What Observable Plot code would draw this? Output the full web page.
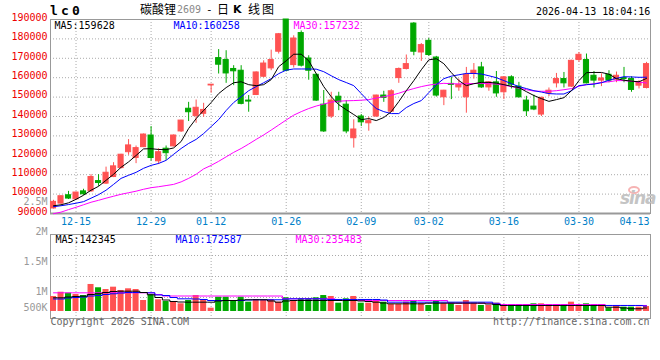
<!DOCTYPE html>
<html><head><meta charset="utf-8">
<script src="https://cdn.jsdelivr.net/npm/d3@7"></script>
<script src="https://cdn.jsdelivr.net/npm/@observablehq/plot@0.6"></script>
<style>
body{margin:0;background:#fff;}
#wrap{position:relative;width:660px;height:360px;background:#fff;overflow:hidden;font-family:"DejaVu Sans Mono",monospace;}
#wrap svg{position:absolute;left:0;}
.t{position:absolute;white-space:pre;line-height:1;}
</style></head><body>
<div id="wrap"></div>
<script>
// ---------- data ----------
const symbol = "lc0";
const nameCN = "碳酸锂", contract = "2609", dash = "-", kindA = "日", kindB = "K", kindC = "线图";
const stamp = "2026-04-13 18:04:16";
const priceLegend = ["MA5:159628", "MA10:160258", "MA30:157232"];
const volLegend = ["MA5:142345", "MA10:172587", "MA30:235483"];
const copyright = "Copyright 2026 SINA.COM";
const url = "http://finance.sina.com.cn";
const watermark = "sina";

const tickIdx = [3, 13, 21, 31, 41, 50, 60, 70, 79];
const tickLabels = ["12-15", "12-29", "01-12", "01-26", "02-09", "03-02", "03-16", "03-30", "04-13"];
const priceTicks = [190000, 180000, 170000, 160000, 150000, 140000, 130000, 120000, 110000, 100000, 90000];
const priceGrid = [180000, 170000, 160000, 150000, 140000, 130000, 120000, 110000, 100000];
const volTicks = [2500000, 2000000, 1500000, 1000000];
const volTickLabels = ["2.5M", "2M", "1.5M", "1M"];
const volLowLabel = "500K";
const volGrid = [1650000, 1300000, 950000];
const volBase = 717000;

const open = [92600,95100,99400,97300,101400,101400,106700,105400,108800,113400,
121600,118600,124200,130200,116900,123400,124600,132300,144000,140200,
141400,156000,170100,169100,164500,163600,148200,151100,160500,164800,
173400,190000,166500,183000,169900,161500,146100,140000,150200,146100,
128800,140000,136500,140000,150800,142500,159800,164500,187900,173000,
179000,170400,149900,156800,155000,149900,161900,165300,155000,157600,
152500,160200,155400,148200,145100,141000,151900,157100,159300,155400,
169100,169100,161000,158500,161500,159000,159800,159300,155900,154700];
const close = [96000,98900,97700,100800,99900,108800,105700,111000,114300,120300,
125100,123700,130700,118600,121600,121100,130200,137900,142200,144500,
143400,156400,166700,162200,163300,146500,147700,162700,167300,169100,
182400,163600,180200,166200,163600,148200,132300,148200,147300,132300,
133300,137000,137600,150800,149600,153000,164500,167000,173400,176800,
171700,150800,153300,156300,156300,161500,163600,155000,157600,151900,
160200,156400,149900,142700,143600,149600,153300,159300,157100,168700,
171800,157100,158500,159600,158500,161000,159300,153700,157600,167000];
const high = [96800,99000,101400,101000,102500,110000,110000,113900,116200,120500,
128100,124800,131000,134800,123400,124800,130500,138000,147300,148500,
146800,156500,174500,173900,166200,166200,150800,163000,168700,174200,
182800,190000,181600,184100,171300,162000,153400,152500,152500,148200,
138300,141000,139600,151000,153000,153800,165000,171700,188400,177600,
180200,171000,153500,160200,159300,165300,167300,167900,158000,163200,
160500,161000,157600,150400,151000,150000,154700,162200,162700,169000,
173000,172200,163200,162000,163600,162900,165300,160500,158500,167900];
const low = [92300,94800,97200,97000,99400,101000,104000,105000,108500,113000,
120000,115700,124000,117000,115200,117400,124300,131800,137400,136500,
139600,152000,161900,157100,155900,146000,142200,150800,160000,163600,
172200,163000,165000,165500,158700,147800,131800,139000,143000,131100,
123700,134800,132400,139500,147300,142000,157100,164000,171300,168400,
171000,150000,145600,148700,153000,141700,159300,154500,153000,149900,
148700,154200,149500,140000,143000,140000,150200,154700,154700,155000,
167900,156800,154700,155400,157400,157400,157400,152500,154200,154200];

const ma5 = [94000,94500,95500,97300,99400,102000,104000,107100,110200,113800,
116600,119900,123300,123400,123000,122900,123800,127100,133800,138900,
143100,147200,151800,154900,157400,157900,156400,155900,156400,159000,
165700,168700,172100,172100,168700,162100,155400,150200,146100,143500,
141000,138400,138900,137900,139500,142500,147700,153300,158500,164100,
169200,169800,167200,162600,158500,155900,156900,157600,157600,157200,
156400,155600,154900,152800,150800,149200,147800,148700,149700,153300,
158500,162600,162700,162700,161800,159500,158700,158200,157900,159628];
const ma10 = [93500,94000,94600,95300,96100,97900,99700,102000,105000,108100,
109700,111200,113300,114800,115800,117400,120500,123500,126100,128200,
131200,134800,138400,143100,147200,150200,153300,155400,157400,159500,
162100,163900,164500,164500,164500,164400,163100,161000,159000,157500,
155900,151800,147700,144100,142500,141500,141500,144600,146700,148200,
152300,156400,159500,160800,161500,162200,162200,161900,161000,160000,
158500,156900,155400,154400,153300,152600,151800,151600,151600,153300,
155900,156400,156700,157400,158700,159700,160500,160400,160200,160258];
const ma30 = [89900,90700,92000,93200,94500,95800,96800,97900,98900,99900,
100700,101500,102500,103300,103800,104400,105000,106300,108100,110200,
113000,114800,116900,119200,121500,123500,125800,128200,130500,133000,
135600,138200,140700,142500,144100,145400,146400,147400,147900,148100,
148200,148400,148700,149500,150200,151000,152000,153300,154400,155400,
156200,156700,157100,156900,156800,156900,157000,157100,156900,156700,
156200,155400,154600,153800,153100,153000,153000,153300,153800,154400,
155600,156400,156900,157600,157900,158500,158500,158200,157700,157232];

const volume = [967,1038,1022,1000,983,1167,1112,1083,1122,1067,
1095,1083,900,995,912,883,872,845,900,983,
912,772,955,955,900,955,872,917,900,917,
872,945,900,928,928,945,983,967,855,928,
967,855,855,888,872,833,833,872,900,845,
817,900,845,855,817,900,845,817,817,855,
800,800,817,833,845,845,817,817,817,872,
817,845,817,817,772,800,789,789,789,800].map(v => v * 1000);
const volMa5 = [945,945,958,967,972,1000,1012,1033,1050,1055,
1055,1055,1033,995,950,908,883,875,872,872,
872,872,892,900,900,908,912,912,912,892,
872,892,900,900,900,900,900,900,900,900,
900,892,883,872,858,845,845,845,845,845,
855,855,855,855,855,855,855,855,842,833,
817,817,817,817,817,817,817,817,817,817,
817,817,817,817,788,788,775,762,762,775].map(v => v * 1000);
const volMa10 = [925,925,942,950,958,975,983,1000,1012,1025,
1033,1033,1033,1028,992,983,950,928,928,925,
917,900,900,900,900,900,908,912,912,912,
912,925,928,928,928,928,925,917,917,917,
917,917,917,917,908,872,872,872,872,872,
872,872,872,872,872,872,872,872,872,842,
817,817,817,817,817,817,817,817,817,817,
817,817,817,817,817,817,817,817,817,808].map(v => v * 1000);
const volMa30 = [1028,1028,1028,1028,1028,1028,1028,1028,1028,1028,
1028,1028,1028,1028,1000,975,975,975,975,975,
975,975,975,975,975,975,975,975,975,975,
975,928,928,928,928,928,928,928,900,900,
900,900,900,900,900,900,900,900,900,900,
900,900,900,855,855,855,855,855,855,855,
833,833,833,833,833,833,833,833,833,833,
833,833,833,833,817,817,817,817,817,817].map(v => v * 1000);

// ---------- styles ----------
const RED = "#ff5252", GREEN = "#00a800", GRID = "#aaaaaa", BORDER = "#999999";
const MONO = "'DejaVu Sans Mono', monospace";
const xDomain = [-0.4, 79.53];

const rows = open.map((o, i) => ({
  i, open: o, close: close[i], high: high[i], low: low[i],
  ma5: ma5[i], ma10: ma10[i], ma30: ma30[i],
  vol: volume[i], vma5: volMa5[i], vma10: volMa10[i], vma30: volMa30[i],
  col: close[i] >= o ? RED : GREEN
}));
const labelOf = new Map(tickIdx.map((d, k) => [d, tickLabels[k]]));
const gridIdx = tickIdx.slice(0, -1);
const lastIdx = tickIdx.slice(-1);
const dotted = {stroke: GRID, strokeDasharray: "1,2", strokeWidth: 1};

const main = Plot.plot({
  width: 660, height: 228,
  marginLeft: 50, marginRight: 10, marginTop: 19, marginBottom: 15,
  style: {background: "transparent", fontFamily: MONO, fontSize: "10px", overflow: "visible"},
  x: {domain: xDomain, axis: null},
  y: {domain: [90000, 190000], axis: null},
  marks: [
    Plot.ruleY(priceGrid, dotted),
    Plot.ruleX(gridIdx, dotted),
    Plot.frame({stroke: BORDER}),
    Plot.ruleY([90000], {stroke: BORDER, strokeWidth: 2}),
    Plot.ruleX(rows, {x: "i", y1: "low", y2: "high", stroke: "col", strokeWidth: 1}),
    Plot.rect(rows, {x1: d => d.i - 0.34, x2: d => d.i + 0.34, y1: "open", y2: "close", fill: "col", stroke: "col", strokeWidth: 1}),
    Plot.line(rows, {x: "i", y: "ma30", stroke: "#ff00ff", strokeWidth: 1}),
    Plot.line(rows, {x: "i", y: "ma10", stroke: "#0000ff", strokeWidth: 1}),
    Plot.line(rows, {x: "i", y: "ma5", stroke: "#000000", strokeWidth: 1}),
    Plot.text(priceTicks, {frameAnchor: "left", y: d => d, text: d => String(d), textAnchor: "end", dx: -3, dy: -2, fill: "#ee0000"}),
    Plot.text(gridIdx, {x: d => d, frameAnchor: "bottom", text: d => labelOf.get(d), lineAnchor: "top", dy: 4, fill: "#0080c8"}),
    Plot.text(lastIdx, {x: d => d, frameAnchor: "bottom", text: d => labelOf.get(d), lineAnchor: "top", textAnchor: "end", dx: 3, dy: 4, fill: "#0080c8"}),
    Plot.text([priceLegend[0]], {frameAnchor: "top-left", text: d => d, textAnchor: "start", lineAnchor: "top", dx: 4, dy: 2, fill: "#000"}),
    Plot.text([priceLegend[1]], {frameAnchor: "top-left", text: d => d, textAnchor: "start", lineAnchor: "top", dx: 123, dy: 2, fill: "#0000ff"}),
    Plot.text([priceLegend[2]], {frameAnchor: "top-left", text: d => d, textAnchor: "start", lineAnchor: "top", dx: 243, dy: 2, fill: "#ff00ff"})
  ]
});
main.style.top = "0px";

const vol = Plot.plot({
  width: 660, height: 170,
  marginLeft: 50, marginRight: 10, marginTop: 44, marginBottom: 42,
  style: {background: "transparent", fontFamily: MONO, fontSize: "10px", overflow: "visible"},
  x: {domain: xDomain, axis: null},
  y: {domain: [600000, 2000000], axis: null},
  marks: [
    Plot.ruleY(volGrid, dotted),
    Plot.ruleX(gridIdx, dotted),
    Plot.frame({stroke: BORDER}),
    Plot.rect(rows, {x1: d => d.i - 0.4, x2: d => d.i + 0.4, y1: volBase, y2: "vol", fill: "col"}),
    Plot.line(rows, {x: "i", y: "vma30", stroke: "#ff00ff", strokeWidth: 1, curve: "step"}),
    Plot.line(rows, {x: "i", y: "vma10", stroke: "#0000ff", strokeWidth: 1, curve: "step"}),
    Plot.line(rows, {x: "i", y: "vma5", stroke: "#000000", strokeWidth: 1, curve: "step"}),
    Plot.text(volTicks, {frameAnchor: "left", y: d => d, text: d => volTickLabels[volTicks.indexOf(d)], textAnchor: "end", dx: -3, dy: -2.5, fill: "#999"}),
    Plot.text([volLowLabel], {frameAnchor: "bottom-left", text: d => d, textAnchor: "end", dx: -3, dy: -8, fill: "#999"}),
    Plot.text([volLegend[0]], {frameAnchor: "top-left", text: d => d, textAnchor: "start", lineAnchor: "top", dx: 5, dy: 1, fill: "#000"}),
    Plot.text([volLegend[1]], {frameAnchor: "top-left", text: d => d, textAnchor: "start", lineAnchor: "top", dx: 125, dy: 1, fill: "#0000ff"}),
    Plot.text([volLegend[2]], {frameAnchor: "top-left", text: d => d, textAnchor: "start", lineAnchor: "top", dx: 245, dy: 1, fill: "#ff00ff"}),
    Plot.text([copyright], {frameAnchor: "bottom-left", text: d => d, textAnchor: "start", dy: 6, fill: "#666"}),
    Plot.text([url], {frameAnchor: "bottom-right", text: d => d, textAnchor: "end", dy: 6, dx: -1, fill: "#666"})
  ]
});
vol.style.top = "190px";

const wrap = document.getElementById("wrap");
wrap.appendChild(main);
wrap.appendChild(vol);

function addText(txt, css) {
  const d = document.createElement("div");
  d.className = "t";
  d.style.cssText = css;
  d.textContent = txt;
  wrap.appendChild(d);
  return d;
}
addText(symbol, "left:50px;top:4px;font:bold 13px/1 'DejaVu Sans Mono';letter-spacing:3.2px;color:#000");
addText(nameCN, "left:140px;top:3px;font:12px/1 'Noto Sans CJK SC';color:#000");
addText(contract, "left:177px;top:5px;font:10px/1 'DejaVu Sans Mono';color:#888");
addText(dash, "left:206px;top:4px;font:11px/1 'DejaVu Sans Mono';color:#000");
addText(kindA, "left:217px;top:3px;font:12px/1 'Noto Sans CJK SC';color:#000");
addText(kindB, "left:233px;top:4px;font:bold 11px/1 'DejaVu Sans';color:#000");
addText(kindC, "left:248px;top:3px;font:12px/1 'Noto Sans CJK SC';color:#000;letter-spacing:2px");
addText(stamp, "left:536px;top:7px;font:10px/1 'DejaVu Sans Mono';color:#000");
// sina logo: small pink eye mark plus watermark word
const eye = document.createElement("div");
eye.style.cssText = "position:absolute;left:628px;top:186px;width:12px;height:8px;border-radius:50%;border:2px solid #f6b3b3;box-sizing:border-box";
wrap.appendChild(eye);
addText(watermark, "left:620px;top:190px;font:italic bold 17px/1 'DejaVu Sans';color:#c4c4c4;letter-spacing:-1px");
</script>
</body></html>
